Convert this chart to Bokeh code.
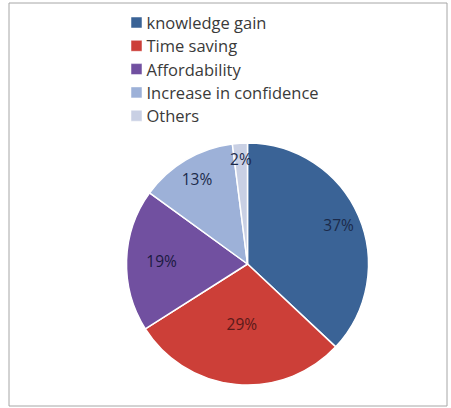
import math
from bokeh.plotting import figure
from bokeh.models import Range1d, ColumnDataSource
from bokeh.core.properties import value
from bokeh.embed import file_html
from bokeh.resources import INLINE

categories = ["knowledge gain", "Time saving", "Affordability", "Increase in confidence", "Others"]
percents = [37, 29, 19, 13, 2]
colors = ["#3A6396", "#CC3F38", "#7150A0", "#9DB1D8", "#C9D0E4"]
label_colors = ["#1B2A4A", "#5A1A1A", "#1B1A40", "#1B2A4A", "#1B2A4A"]
label_radius = [0.82, 0.5, 0.71, 0.82, 0.87]

W, H = 451, 408
cx, cy, r = 247, H - 263.5, 121

p = figure(width=W, height=H, output_backend="svg", toolbar_location=None,
           x_range=Range1d(0, W), y_range=Range1d(0, H), min_border=0)
p.axis.visible = False
p.grid.visible = False
p.outline_line_color = None
p.background_fill_color = "white"
p.border_fill_color = "white"

# frame
p.quad(left=[8.5], right=[446.5], bottom=[H - 405.5], top=[H - 2.5],
       fill_color=None, line_color="#A6A6A6", line_width=1)

# wedges, clockwise from the top
total = sum(percents)
starts, ends, mids = [], [], []
a = math.pi / 2
for v in percents:
    span = 2 * math.pi * v / total
    starts.append(a - span)
    ends.append(a)
    mids.append(a - span / 2)
    a -= span

src = ColumnDataSource(dict(start=starts, end=ends, color=colors))
p.wedge(x=cx, y=cy, radius=r, start_angle="start", end_angle="end",
        fill_color="color", line_color="white", line_width=1.5, source=src)

lx = [cx + f * r * math.cos(m) for f, m in zip(label_radius, mids)]
ly = [cy + f * r * math.sin(m) for f, m in zip(label_radius, mids)]
p.text(x=lx, y=ly, text=[f"{v}%" for v in percents], text_color=label_colors,
       text_font=value("Open Sans"), text_font_size="15.5px",
       text_align="center", text_baseline="middle")

# legend
row0, step = H - 22, 23.3
ly_leg = [row0 - i * step for i in range(len(categories))]
p.rect(x=[136] * len(categories), y=ly_leg, width=11, height=11,
       fill_color=colors, line_color="white", line_width=0.5)
p.text(x=[146] * len(categories), y=ly_leg, text=categories,
       text_font=value("Open Sans"), text_font_size="16.5px", text_color="#3A3A3A",
       text_align="left", text_baseline="middle")

open("out.html", "w").write(file_html(p, INLINE))
